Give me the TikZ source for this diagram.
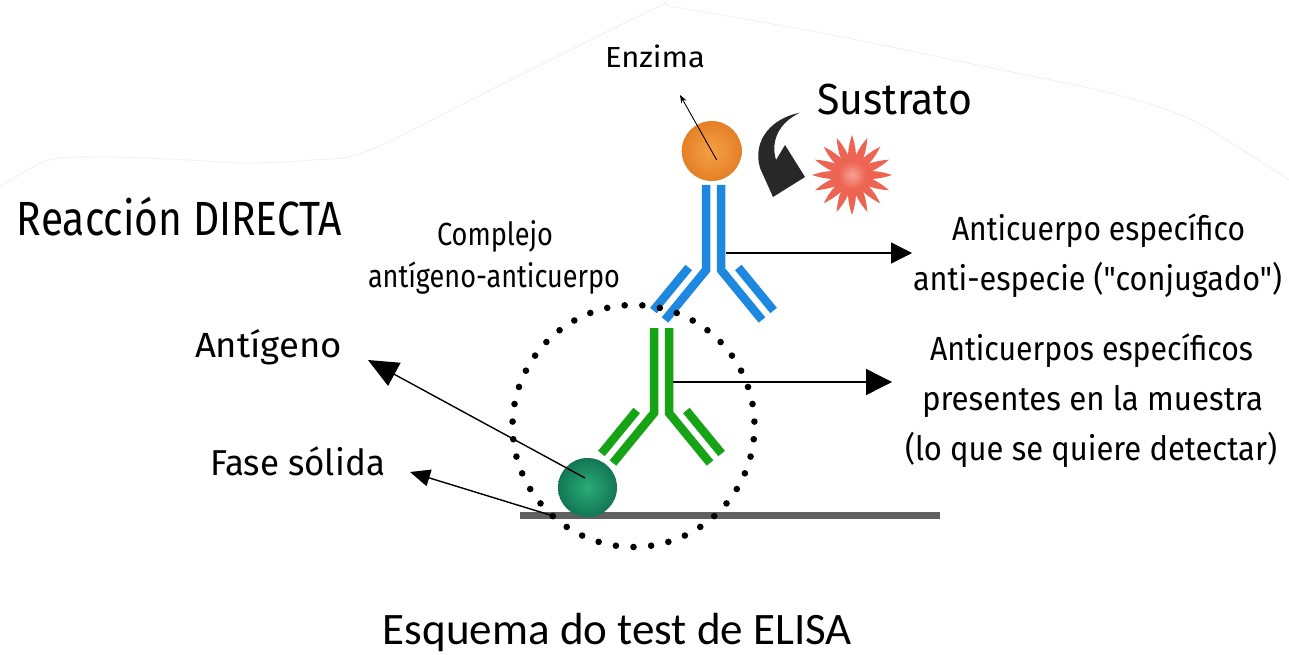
\documentclass[tikz,border=0pt]{standalone}
\usepackage{fontspec}
\usepackage{graphicx}
\usetikzlibrary{arrows.meta}
\newfontfamily\handfont{Fira Sans}
\newfontfamily\capfont{Carlito}
\definecolor{abblue}{RGB}{30,136,224}
\definecolor{abgreen}{RGB}{22,163,22}
\definecolor{enzout}{RGB}{228,128,38}
\definecolor{enzin}{RGB}{244,160,70}
\definecolor{agout}{RGB}{18,118,84}
\definecolor{agin}{RGB}{42,172,120}
\definecolor{petal}{RGB}{238,100,82}
\definecolor{petalcore}{RGB}{248,160,146}
\definecolor{plate}{RGB}{96,96,96}
\definecolor{arrowgrey}{RGB}{40,40,40}
% one line of hand-lettered text: name, centre x, baseline y, width, size, text
\newcommand\handlabel[6]{\node[anchor=base, inner sep=0pt] (#1) at (#2,#3)
  {\resizebox{#4pt}{\height}{\handfont\fontsize{#5pt}{#5pt}\selectfont #6}};}
\tikzset{
  pics/antibody/.style={code={
    \draw[#1, line width=8.5] (-7.5,-85) -- (-7.5,0) -- (-48.5,50);
    \draw[#1, line width=8.5] (7.5,-85) -- (7.5,0) -- (48.5,50);
    \draw[#1, line width=8.5] (-24.8,-2.5) -- (-60.1,40.5);
    \draw[#1, line width=8.5] (24.8,-2.5) -- (60.1,40.5);
  }},
  pointer/.style={line width=1.4, -{Triangle[length=#1, width=#1]}},
  bead/.style={circle, draw=none, inner sep=0pt, minimum size=#1},
}
\begin{document}
\begin{tikzpicture}[x=1pt, y=-1pt]
\useasboundingbox[fill=white] (0,0) rectangle (1289,655);

% faint paper outline
\draw[gray!12, line width=0.8] plot[smooth] coordinates {(0,187) (49,160) (107,157) (189,160) (247,163) (312,160) (370,150) (520,75) (658,7) (674,7) (822,33) (987,67) (1110,93) (1192,120) (1289,180)};

% solid phase
\draw[plate, line width=7] (520,515.5) -- (940,515.5);

% antibodies
\pic at (713.5,270) {antibody=abblue};
\pic at (661.5,413) {antibody=abgreen};

% antigen and enzyme
\node[bead=59, shade, inner color=agin, outer color=agout] (ag) at (587.5,487.5) {};
\node[bead=60, shade, inner color=enzin, outer color=enzout] (enz) at (711.7,151) {};

% substrate: sixteen petals with a pale core
\begin{scope}[shift={(852,175)}]
  \foreach \k in {0,...,15}{
    \fill[petal, rotate=90+\k*22.5] (0,0) .. controls (14,6.5) and (28,4) .. (40,0)
      .. controls (28,-4) and (14,-6.5) .. (0,0);
  }
  \shade[inner color=petalcore, outer color=petal] (0,0) circle (14);
\end{scope}
\coordinate (sub) at (852,175);

% curved reaction arrow
\fill[arrowgrey] (800,112.7) .. controls (772,118) and (752,140) .. (760,168)
  -- (773,197) -- (805,177) -- (785,145) -- (776,160)
  .. controls (770,140) and (780,122) .. (800,112.7) -- cycle;

% leader lines
\coordinate (enzTip) at (680,95);
\coordinate (enzFrom) at (716.7,160);
\draw[line width=0.9, -{Stealth[length=8, width=6]}] (enzFrom) -- (enzTip);

\coordinate (agFrom) at (585,478);
\coordinate (agTip) at (368,360);
\draw[line width=1.4, -{Triangle[length=30, width=26]}] (agFrom) -- (agTip);

\coordinate (solidFrom) at (550,515);
\coordinate (solidTip) at (410,472);
\draw[line width=1.4, -{Triangle[length=20, width=17]}] (solidFrom) -- (solidTip);

\coordinate (blueFrom) at (726,253);
\coordinate (blueTip) at (912,253);
\draw[pointer=21] (blueFrom) -- (blueTip);

\coordinate (greenFrom) at (673,382);
\coordinate (greenTip) at (892,382);
\draw[pointer=26] (greenFrom) -- (greenTip);

% antigen-antibody complex boundary
\foreach \i in {0,...,42}{
  \fill (633.5,426) ++({90+\i*360/43}:121) circle (3.3);
}

% labels
\handlabel{title}{179.5}{235}{325}{48}{Reacción DIRECTA}
\handlabel{complejoA}{495}{245}{116}{32}{Complejo}
\handlabel{complejoB}{494}{287}{252}{32}{antígeno-anticuerpo}
\handlabel{antigeno}{268.5}{357}{147}{35}{Antígeno}
\handlabel{fase}{297.5}{475}{175}{36}{Fase sólida}
\handlabel{enzima}{655}{68}{100}{29}{Enzima}
\handlabel{sustrato}{894.5}{115}{155}{43.5}{Sustrato}
\handlabel{conjA}{1098.5}{240}{293}{33.5}{Anticuerpo específico}
\handlabel{conjB}{1097.5}{290}{369}{33.5}{anti-especie ("conjugado")}
\handlabel{muestraA}{1091.5}{360}{323}{33.5}{Anticuerpos específicos}
\handlabel{muestraB}{1092.5}{410}{341}{33.5}{presentes en la muestra}
\handlabel{muestraC}{1091}{460}{372}{33.5}{(lo que se quiere detectar)}

\node[anchor=base, inner sep=0pt] (caption) at (617.5,644)
  {\resizebox{469pt}{\height}{\capfont\fontsize{45pt}{45pt}\selectfont Esquema do test de ELISA}};
\end{tikzpicture}
\end{document}
